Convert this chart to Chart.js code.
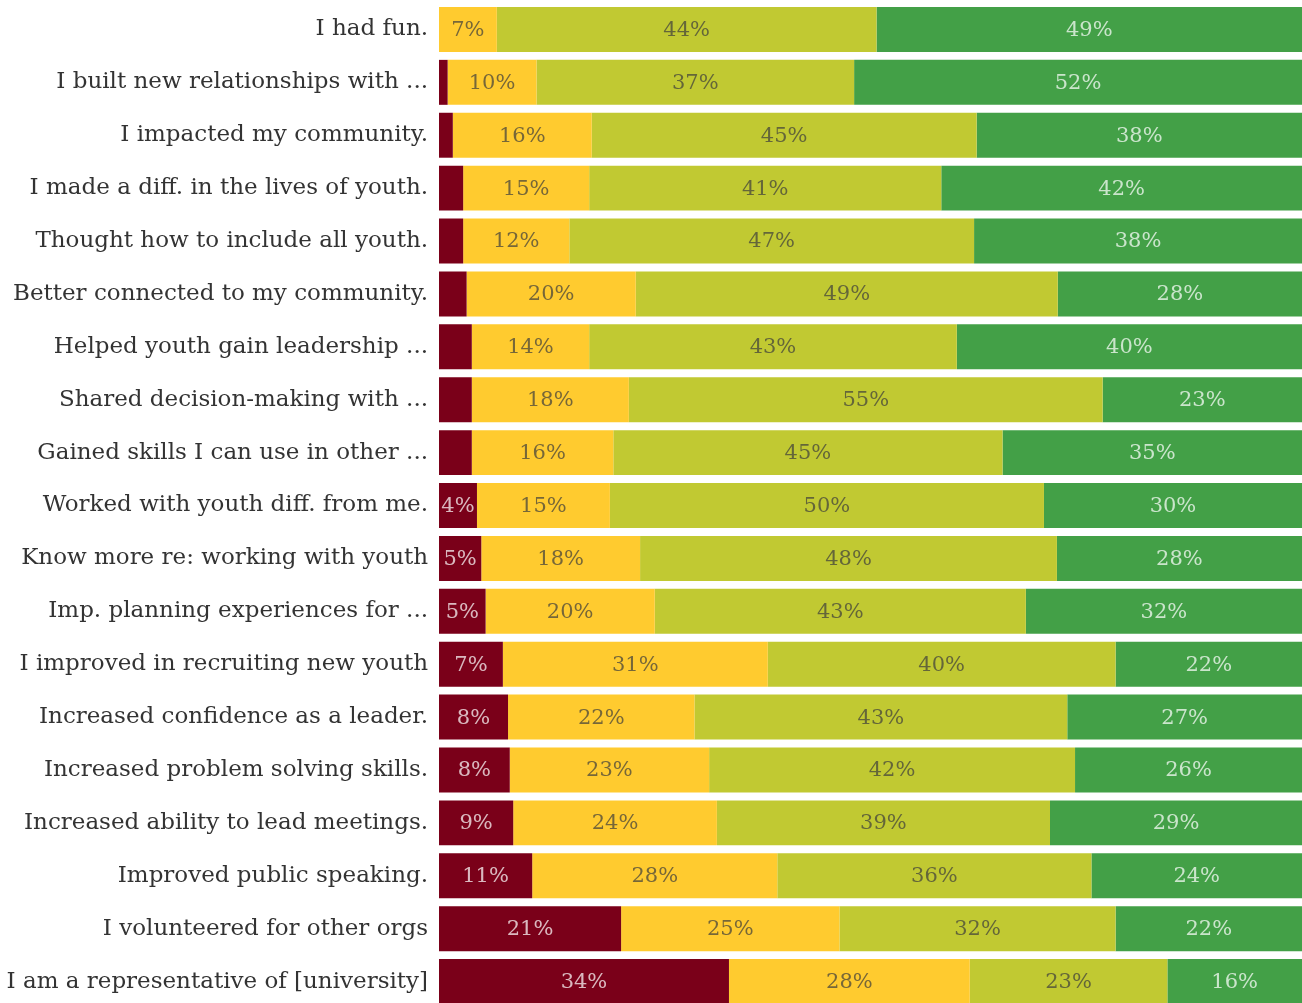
<!DOCTYPE html>
<html lang="en">
<head>
    <meta charset="UTF-8">
    <title>Survey results</title>
    <script src="https://cdn.jsdelivr.net/npm/chart.js"></script>
    <style>
        body { margin: 0; background: #fff; }
        #wrap { width: 1302px; height: 1003px; overflow: hidden; }
    </style>
</head>
<body>
    <div id="wrap"><canvas id="surveyChart" width="1302" height="1008"></canvas></div>

    <script>
        // categories (top to bottom)
        const categories = [
            "I had fun.",
            "I built new relationships with ...",
            "I impacted my community.",
            "I made a diff. in the lives of youth.",
            "Thought how to include all youth.",
            "Better connected to my community.",
            "Helped youth gain leadership ...",
            "Shared decision-making with ...",
            "Gained skills I can use in other ...",
            "Worked with youth diff. from me.",
            "Know more re: working with youth",
            "Imp. planning experiences for ...",
            "I improved in recruiting new youth",
            "Increased confidence as a leader.",
            "Increased problem solving skills.",
            "Increased ability to lead meetings.",
            "Improved public speaking.",
            "I volunteered for other orgs",
            "I am a representative of [university]"
        ];

        // percentage of answers per level
        const notAtAll = [0, 1.0, 1.6, 2.8, 2.8, 3.2, 3.8, 3.8, 3.8, 4.4, 4.9, 5.4, 7.4, 8.0, 8.2, 8.6, 10.8, 21.1, 33.6];
        const aLittle  = [6.7, 10.3, 16.1, 14.6, 12.3, 19.6, 13.6, 18.2, 16.4, 15.4, 18.4, 19.6, 30.7, 21.6, 23.1, 23.6, 28.4, 25.3, 27.9];
        const somewhat = [44.0, 36.8, 44.6, 40.8, 46.9, 48.9, 42.6, 54.9, 45.1, 50.3, 48.3, 43.0, 40.3, 43.2, 42.4, 38.6, 36.4, 32.0, 22.9];
        const aLot     = [49.3, 51.9, 37.7, 41.8, 38.0, 28.3, 40.0, 23.1, 34.7, 29.9, 28.4, 32.0, 21.6, 27.2, 26.3, 29.2, 24.4, 21.6, 15.6];

        const labelFont = "'DejaVu Serif'";

        // draw the % inside each segment
        const segmentLabels = {
            id: "segmentLabels",
            afterDatasetsDraw(chart) {
                const c = chart.ctx;
                c.save();
                c.font = "21px " + labelFont;
                c.textAlign = "center";
                c.textBaseline = "middle";
                chart.data.datasets.forEach((ds, i) => {
                    chart.getDatasetMeta(i).data.forEach((bar, j) => {
                        const v = ds.data[j];
                        if (v < 4.2) return;
                        c.fillStyle = ds.textColor;
                        c.fillText(Math.round(v) + "%", (bar.x + bar.base) / 2, bar.y + 1);
                    });
                });
                c.restore();
            }
        };

        const ctx = document.getElementById("surveyChart").getContext("2d");
        new Chart(ctx, {
            type: "bar",
            data: {
                labels: categories,
                datasets: [
                    { label: "Not at all", data: notAtAll, backgroundColor: "#7a0019", textColor: "rgba(255,255,255,0.72)" },
                    { label: "A little", data: aLittle, backgroundColor: "#ffcb2f", textColor: "rgba(60,60,60,0.7)" },
                    { label: "Somewhat", data: somewhat, backgroundColor: "#c1c932", textColor: "rgba(60,60,60,0.7)" },
                    { label: "A lot", data: aLot, backgroundColor: "#43a047", textColor: "rgba(255,255,255,0.72)" }
                ]
            },
            options: {
                indexAxis: "y",
                responsive: false,
                animation: false,
                layout: { padding: { top: 3, bottom: 0, left: 7, right: 0 } },
                datasets: { bar: { barPercentage: 1, categoryPercentage: 0.85, borderWidth: 0 } },
                plugins: {
                    legend: { display: false },
                    tooltip: { enabled: false }
                },
                scales: {
                    x: { stacked: true, min: 0, max: 100, display: false },
                    y: {
                        stacked: true,
                        grid: { display: false, drawTicks: false },
                        border: { display: false },
                        afterFit(scale) {
                            // labels sit inside the rows, no extra room needed above/below
                            scale.paddingTop = 0;
                            scale.paddingBottom = 0;
                            scale.width = 432;
                        },
                        ticks: {
                            padding: 11,
                            color: "#333",
                            font: { family: labelFont, size: 23 }
                        }
                    }
                }
            },
            plugins: [segmentLabels]
        });
    </script>
</body>
</html>
